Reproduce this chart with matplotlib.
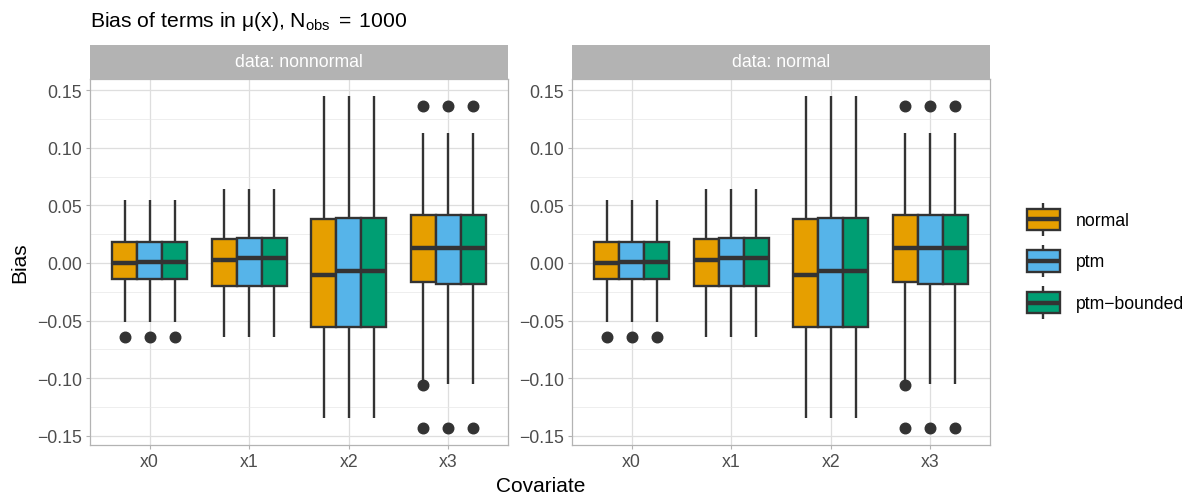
import matplotlib
matplotlib.use("Agg")
import matplotlib.pyplot as plt
from matplotlib.patches import Rectangle, Patch
from matplotlib.lines import Line2D
from matplotlib.legend_handler import HandlerBase
from matplotlib.ticker import MultipleLocator, FuncFormatter

plt.rcParams["font.family"] = ["Liberation Sans", "DejaVu Sans"]
plt.rcParams["mathtext.fontset"] = "custom"
plt.rcParams["mathtext.rm"] = "Liberation Sans"
plt.rcParams["mathtext.it"] = "Liberation Sans:italic"
plt.rcParams["mathtext.sf"] = "Liberation Sans"

# ---- data -------------------------------------------------------------
facets = ["data: nonnormal", "data: normal"]
covariates = ["x0", "x1", "x2", "x3"]
methods = ["normal", "ptm", "ptm−bounded"]
colors = ["#E69F00", "#56B4E9", "#009E73"]

# rows: covariates x0..x3, columns: methods (normal, ptm, ptm-bounded)
whisker_high = [
    [0.0547, 0.0547, 0.0547],
    [0.0640, 0.0640, 0.0640],
    [0.1452, 0.1452, 0.1452],
    [0.1124, 0.1124, 0.1124],
]
upper_quartile = [
    [0.0178, 0.0178, 0.0178],
    [0.0207, 0.0213, 0.0213],
    [0.0383, 0.0390, 0.0390],
    [0.0415, 0.0417, 0.0417],
]
median = [
    [0.0001, 0.0010, 0.0010],
    [0.0029, 0.0040, 0.0040],
    [-0.0104, -0.0068, -0.0068],
    [0.0127, 0.0127, 0.0127],
]
lower_quartile = [
    [-0.0138, -0.0138, -0.0138],
    [-0.0202, -0.0196, -0.0196],
    [-0.0559, -0.0559, -0.0559],
    [-0.0167, -0.0184, -0.0184],
]
whisker_low = [
    [-0.0513, -0.0513, -0.0513],
    [-0.0642, -0.0642, -0.0642],
    [-0.1349, -0.1349, -0.1349],
    [-0.1040, -0.1046, -0.1046],
]
outliers = [
    [[-0.0643], [-0.0643], [-0.0643]],
    [[], [], []],
    [[], [], []],
    [[0.1360, -0.1055, -0.1435], [0.1360, -0.1435], [0.1360, -0.1435]],
]

# ---- styling ----------------------------------------------------------
INK = "#333333"
GRID = "#DEDEDE"
BORDER = "#B3B3B3"
TEXT = "#4D4D4D"
BOX_LW = 1.7
MED_LW = 3.2
SMALL = 12.7
LARGE = 15

W, H = 1192, 502
fig = plt.figure(figsize=(W / 100, H / 100), dpi=100)

panel_left = [90, 572]
panel_w = 418
panel_top = 80
panel_bottom = 446
strip_h = 34

all_vals = [v for tbl in (whisker_high, whisker_low) for row in tbl for v in row]
all_vals += [v for row in outliers for lst in row for v in lst]
lo, hi = min(all_vals), max(all_vals)
pad = 0.05 * (hi - lo)
ylim = (lo - pad, hi + pad)

fmt = FuncFormatter(lambda v, _: f"{v:.2f}".replace("-", "\u2212"))

for k, facet in enumerate(facets):
    ax = fig.add_axes([panel_left[k] / W, 1 - panel_bottom / H,
                       panel_w / W, (panel_bottom - panel_top) / H])
    ax.set_axisbelow(True)
    for j, (m, col) in enumerate(zip(methods, colors)):
        stats = []
        for i in range(len(covariates)):
            stats.append(dict(med=median[i][j], q1=lower_quartile[i][j],
                              q3=upper_quartile[i][j], whislo=whisker_low[i][j],
                              whishi=whisker_high[i][j], fliers=outliers[i][j]))
        positions = [i + 1 + (j - 1) * 0.25 for i in range(len(covariates))]
        ax.bxp(stats, positions=positions, widths=0.25, patch_artist=True,
               showcaps=False, manage_ticks=False,
               boxprops=dict(facecolor=col, edgecolor=INK, linewidth=BOX_LW),
               whiskerprops=dict(color=INK, linewidth=BOX_LW, solid_capstyle="butt"),
               medianprops=dict(color=INK, linewidth=MED_LW, solid_capstyle="butt"),
               flierprops=dict(marker="o", markerfacecolor=INK, markeredgecolor=INK,
                               markersize=7.6, linestyle="none"))
    ax.set_xlim(0.4, len(covariates) + 0.6)
    ax.set_ylim(*ylim)
    ax.set_xticks(range(1, len(covariates) + 1), covariates)
    ax.yaxis.set_major_locator(MultipleLocator(0.05))
    ax.yaxis.set_minor_locator(MultipleLocator(0.025))
    ax.yaxis.set_major_formatter(fmt)
    ax.grid(which="major", color=GRID, linewidth=0.9)
    ax.grid(which="minor", axis="y", color="#E8E8E8", linewidth=0.5)
    ax.tick_params(which="major", length=3.2, width=0.8, color=BORDER,
                   labelcolor=TEXT, labelsize=SMALL, pad=2.5)
    ax.tick_params(which="minor", length=0)
    for s in ax.spines.values():
        s.set_color(BORDER)
        s.set_linewidth(0.9)

    sax = fig.add_axes([panel_left[k] / W, 1 - panel_top / H,
                        panel_w / W, strip_h / H])
    sax.set_facecolor(BORDER)
    sax.set_xticks([])
    sax.set_yticks([])
    for s in sax.spines.values():
        s.set_visible(False)
    sax.text(0.5, 0.5, facet, color="white", fontsize=SMALL,
             ha="center", va="center", transform=sax.transAxes)

fig.text(90 / W, 1 - 27 / H,
         r"Bias of terms in μ(x), $\mathrm{N_{obs}\;=\;1000}$",
         fontsize=15.2, ha="left", va="baseline", color="black")
fig.text(20 / W, 1 - 263 / H, "Bias", rotation=90, fontsize=LARGE,
         ha="center", va="center")
fig.text(541 / W, 1 - 487 / H, "Covariate", fontsize=LARGE,
         ha="center", va="center")


class BoxKey(HandlerBase):
    def create_artists(self, legend, orig_handle, xdescent, ydescent,
                       width, height, fontsize, trans):
        x0, y0 = -xdescent, -ydescent
        cx = x0 + width / 2
        face = orig_handle.get_facecolor()
        top = Line2D([cx, cx], [y0 + 0.82 * height, y0 + height], color=INK,
                     linewidth=BOX_LW, solid_capstyle="butt", transform=trans)
        bot = Line2D([cx, cx], [y0, y0 + 0.18 * height], color=INK,
                     linewidth=BOX_LW, solid_capstyle="butt", transform=trans)
        rect = Rectangle((x0, y0 + 0.18 * height), width, 0.64 * height,
                         facecolor=face, edgecolor=INK, linewidth=BOX_LW,
                         transform=trans)
        med = Line2D([x0, x0 + width], [y0 + height / 2] * 2, color=INK,
                     linewidth=MED_LW, solid_capstyle="butt", transform=trans)
        return [top, bot, rect, med]


handles = [Patch(facecolor=c) for c in colors]
fig.legend(handles, methods, handler_map={Patch: BoxKey()},
           loc="center left", bbox_to_anchor=(1027 / W, 1 - 262 / H),
           frameon=False, fontsize=SMALL, borderpad=0, borderaxespad=0,
           handlelength=1.87, handleheight=2.5, labelspacing=0.49,
           handletextpad=0.9)

fig.savefig("out.png", dpi=100)
